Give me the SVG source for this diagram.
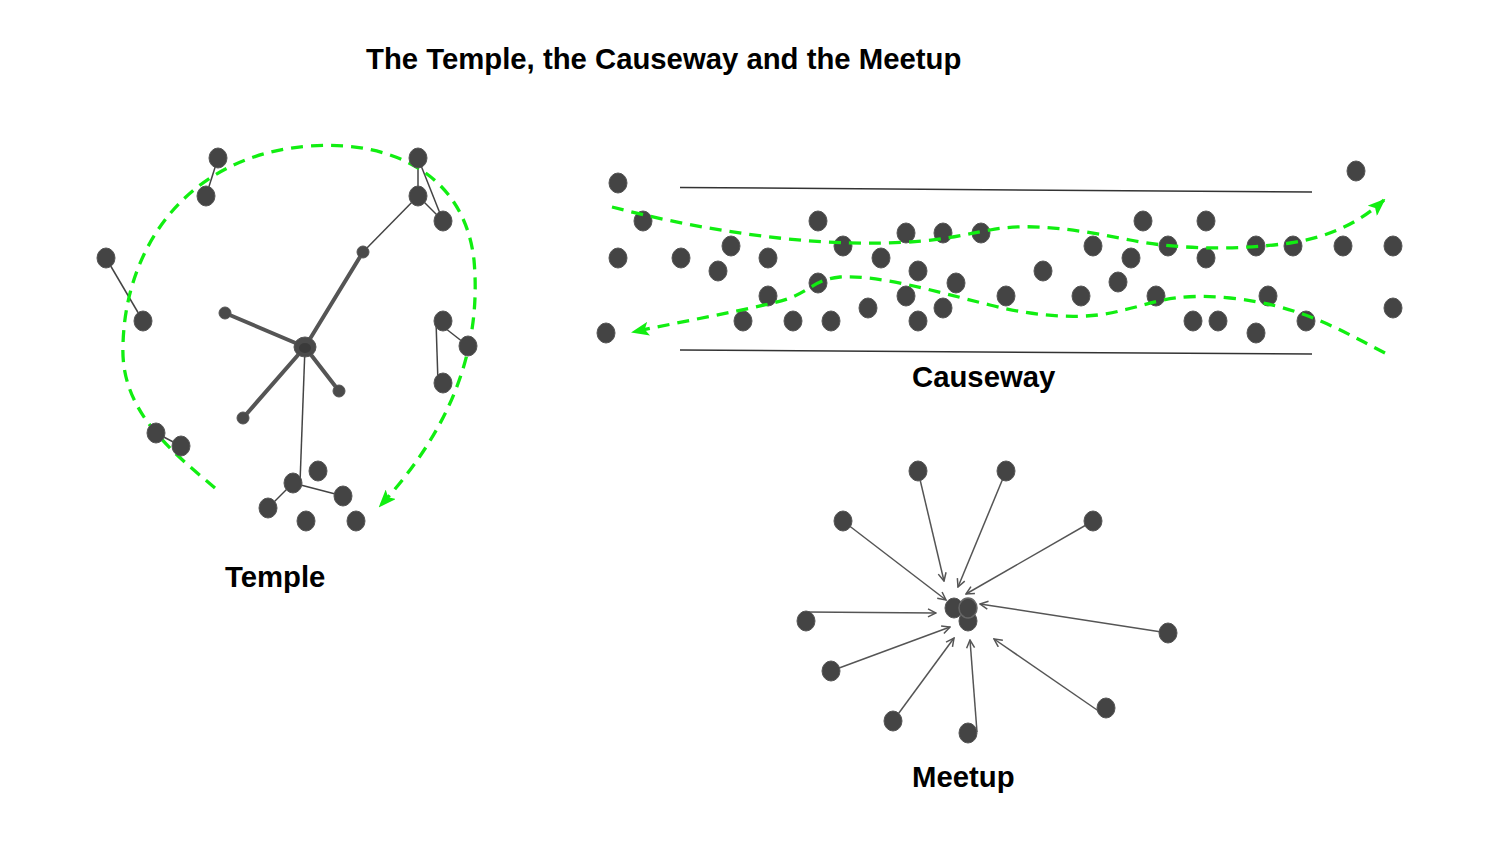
<svg xmlns="http://www.w3.org/2000/svg" width="1500" height="844" viewBox="0 0 1500 844">
<defs>
<style>
.lbl{font-family:"Liberation Sans",Arial,sans-serif;font-weight:bold;font-size:29.3px;fill:#000}
.dot{fill:#444;stroke:#555;stroke-width:1}
.sm{fill:#4a4a4a;stroke:#555;stroke-width:1}
.thin{stroke:#444;stroke-width:1.5;fill:none}
.thick{stroke:#555;stroke-width:4;fill:none;stroke-linecap:round}
.rail{stroke:#333;stroke-width:1.5;fill:none}
.path{stroke:#11ee11;stroke-width:3.3;fill:none;stroke-dasharray:12 8}
.arr{stroke:#555;stroke-width:1.5;fill:none}
</style>
<marker id="ga" viewBox="0 0 18 14" refX="16" refY="7" markerWidth="18" markerHeight="14" markerUnits="userSpaceOnUse" orient="auto">
<path d="M0,0 L18,7 L0,14 L4,7 Z" fill="#11ee11"/>
</marker>
<marker id="va" viewBox="0 0 10 10" refX="9" refY="5" markerWidth="10" markerHeight="10" markerUnits="userSpaceOnUse" orient="auto">
<path d="M1,1 L9,5 L1,9" fill="none" stroke="#555" stroke-width="1.5"/>
</marker>
</defs>
<rect width="1500" height="844" fill="#fff"/>
<text class="lbl" x="366" y="69">The Temple, the Causeway and the Meetup</text>

<!-- Temple -->
<g id="temple-connectors">
<line class="thin" x1="218" y1="158" x2="206" y2="196"/>
<line class="thin" x1="418" y1="158" x2="418" y2="196"/>
<line class="thin" x1="418" y1="158" x2="443" y2="221"/>
<line class="thin" x1="418" y1="196" x2="443" y2="221"/>
<line class="thin" x1="418" y1="196" x2="363" y2="252"/>
<line class="thin" x1="106" y1="258" x2="143" y2="321"/>
<line class="thin" x1="436" y1="321" x2="468" y2="346"/>
<line class="thin" x1="436" y1="321" x2="438" y2="383"/>
<line class="thin" x1="156" y1="433" x2="181" y2="446"/>
<line class="thin" x1="305" y1="347" x2="300" y2="483"/>
<line class="thin" x1="293" y1="483" x2="268" y2="508"/>
<line class="thin" x1="293" y1="483" x2="343" y2="496"/>
<line class="thick" x1="305" y1="347" x2="225" y2="313"/>
<line class="thick" x1="305" y1="347" x2="363" y2="252"/>
<line class="thick" x1="305" y1="347" x2="339" y2="391"/>
<line class="thick" x1="305" y1="347" x2="243" y2="418"/>
<path class="path" marker-end="url(#ga)" d="M215,488 C170,450 120,410 123,345 C125,250 185,155 310,146 C400,140 465,180 474,260 C482,350 450,430 380,506"/>
</g>
<g id="temple-nodes">
<ellipse class="dot" cx="218" cy="158" rx="9" ry="10"/>
<ellipse class="dot" cx="206" cy="196" rx="9" ry="10"/>
<ellipse class="dot" cx="418" cy="158" rx="9" ry="10"/>
<ellipse class="dot" cx="418" cy="196" rx="9" ry="10"/>
<ellipse class="dot" cx="443" cy="221" rx="9" ry="10"/>
<ellipse class="dot" cx="106" cy="258" rx="9" ry="10"/>
<ellipse class="dot" cx="143" cy="321" rx="9" ry="10"/>
<ellipse class="dot" cx="443" cy="321" rx="9" ry="10"/>
<ellipse class="dot" cx="468" cy="346" rx="9" ry="10"/>
<ellipse class="dot" cx="443" cy="383" rx="9" ry="10"/>
<ellipse class="dot" cx="156" cy="433" rx="9" ry="10"/>
<ellipse class="dot" cx="181" cy="446" rx="9" ry="10"/>
<ellipse class="dot" cx="318" cy="471" rx="9" ry="10"/>
<ellipse class="dot" cx="293" cy="483" rx="9" ry="10"/>
<ellipse class="dot" cx="343" cy="496" rx="9" ry="10"/>
<ellipse class="dot" cx="268" cy="508" rx="9" ry="10"/>
<ellipse class="dot" cx="306" cy="521" rx="9" ry="10"/>
<ellipse class="dot" cx="356" cy="521" rx="9" ry="10"/>
<ellipse class="sm" cx="305" cy="347" rx="11" ry="10"/>
<ellipse cx="305" cy="348" rx="6" ry="5" fill="#3a3a3a"/>
<circle class="sm" cx="225" cy="313" r="6"/>
<circle class="sm" cx="363" cy="252" r="6"/>
<circle class="sm" cx="339" cy="391" r="6"/>
<circle class="sm" cx="243" cy="418" r="6"/>
</g>
<text class="lbl" x="225" y="587">Temple</text>

<!-- Causeway -->
<g id="causeway-connectors">
<line class="rail" x1="680" y1="187.5" x2="1312" y2="192"/>
<line class="rail" x1="680" y1="350" x2="1312" y2="354"/>
</g>
<g id="causeway-nodes">
<ellipse class="dot" cx="618" cy="183" rx="9" ry="10"/>
<ellipse class="dot" cx="643" cy="221" rx="9" ry="10"/>
<ellipse class="dot" cx="618" cy="258" rx="9" ry="10"/>
<ellipse class="dot" cx="681" cy="258" rx="9" ry="10"/>
<ellipse class="dot" cx="731" cy="246" rx="9" ry="10"/>
<ellipse class="dot" cx="718" cy="271" rx="9" ry="10"/>
<ellipse class="dot" cx="768" cy="258" rx="9" ry="10"/>
<ellipse class="dot" cx="818" cy="221" rx="9" ry="10"/>
<ellipse class="dot" cx="843" cy="246" rx="9" ry="10"/>
<ellipse class="dot" cx="881" cy="258" rx="9" ry="10"/>
<ellipse class="dot" cx="906" cy="233" rx="9" ry="10"/>
<ellipse class="dot" cx="943" cy="233" rx="9" ry="10"/>
<ellipse class="dot" cx="981" cy="233" rx="9" ry="10"/>
<ellipse class="dot" cx="918" cy="271" rx="9" ry="10"/>
<ellipse class="dot" cx="818" cy="283" rx="9" ry="10"/>
<ellipse class="dot" cx="768" cy="296" rx="9" ry="10"/>
<ellipse class="dot" cx="743" cy="321" rx="9" ry="10"/>
<ellipse class="dot" cx="793" cy="321" rx="9" ry="10"/>
<ellipse class="dot" cx="831" cy="321" rx="9" ry="10"/>
<ellipse class="dot" cx="868" cy="308" rx="9" ry="10"/>
<ellipse class="dot" cx="906" cy="296" rx="9" ry="10"/>
<ellipse class="dot" cx="918" cy="321" rx="9" ry="10"/>
<ellipse class="dot" cx="943" cy="308" rx="9" ry="10"/>
<ellipse class="dot" cx="956" cy="283" rx="9" ry="10"/>
<ellipse class="dot" cx="1006" cy="296" rx="9" ry="10"/>
<ellipse class="dot" cx="606" cy="333" rx="9" ry="10"/>
<ellipse class="dot" cx="1356" cy="171" rx="9" ry="10"/>
<ellipse class="dot" cx="1143" cy="221" rx="9" ry="10"/>
<ellipse class="dot" cx="1206" cy="221" rx="9" ry="10"/>
<ellipse class="dot" cx="1093" cy="246" rx="9" ry="10"/>
<ellipse class="dot" cx="1168" cy="246" rx="9" ry="10"/>
<ellipse class="dot" cx="1256" cy="246" rx="9" ry="10"/>
<ellipse class="dot" cx="1293" cy="246" rx="9" ry="10"/>
<ellipse class="dot" cx="1343" cy="246" rx="9" ry="10"/>
<ellipse class="dot" cx="1393" cy="246" rx="9" ry="10"/>
<ellipse class="dot" cx="1131" cy="258" rx="9" ry="10"/>
<ellipse class="dot" cx="1206" cy="258" rx="9" ry="10"/>
<ellipse class="dot" cx="1043" cy="271" rx="9" ry="10"/>
<ellipse class="dot" cx="1118" cy="282" rx="9" ry="10"/>
<ellipse class="dot" cx="1081" cy="296" rx="9" ry="10"/>
<ellipse class="dot" cx="1156" cy="296" rx="9" ry="10"/>
<ellipse class="dot" cx="1268" cy="296" rx="9" ry="10"/>
<ellipse class="dot" cx="1193" cy="321" rx="9" ry="10"/>
<ellipse class="dot" cx="1218" cy="321" rx="9" ry="10"/>
<ellipse class="dot" cx="1256" cy="333" rx="9" ry="10"/>
<ellipse class="dot" cx="1306" cy="321" rx="9" ry="10"/>
<ellipse class="dot" cx="1393" cy="308" rx="9" ry="10"/>
</g>
<g id="causeway-paths">
<path class="path" marker-end="url(#ga)" d="M612,207 C700,230 800,245 883,243 C940,242 960,235 990,230 C1030,222 1080,230 1130,240 C1180,250 1240,250 1290,243 C1330,237 1360,222 1384,200"/>
<path class="path" marker-end="url(#ga)" d="M1385,353 C1340,330 1300,305 1230,298 C1170,292 1150,305 1123,310 C1090,320 1040,318 990,305 C930,290 880,275 840,277 C810,280 810,295 773,303 C730,313 680,322 633,332"/>
</g>
<text class="lbl" x="912" y="387">Causeway</text>

<!-- Meetup -->
<g id="meetup-connectors">
<line class="arr" marker-end="url(#va)" x1="918" y1="471" x2="944" y2="581"/>
<line class="arr" marker-end="url(#va)" x1="1006" y1="471" x2="958" y2="587"/>
<line class="arr" marker-end="url(#va)" x1="843" y1="521" x2="946" y2="600"/>
<line class="arr" marker-end="url(#va)" x1="1093" y1="521" x2="966" y2="594"/>
<line class="arr" marker-end="url(#va)" x1="806" y1="612" x2="936" y2="613"/>
<line class="arr" marker-end="url(#va)" x1="1168" y1="633" x2="980" y2="604"/>
<line class="arr" marker-end="url(#va)" x1="831" y1="671" x2="950" y2="627"/>
<line class="arr" marker-end="url(#va)" x1="893" y1="721" x2="954" y2="638"/>
<line class="arr" marker-end="url(#va)" x1="977" y1="732" x2="970" y2="640"/>
<line class="arr" marker-end="url(#va)" x1="1100" y1="712" x2="994" y2="639"/>
</g>
<g id="meetup-nodes">
<ellipse class="dot" cx="918" cy="471" rx="9" ry="10"/>
<ellipse class="dot" cx="1006" cy="471" rx="9" ry="10"/>
<ellipse class="dot" cx="843" cy="521" rx="9" ry="10"/>
<ellipse class="dot" cx="1093" cy="521" rx="9" ry="10"/>
<ellipse class="dot" cx="806" cy="621" rx="9" ry="10"/>
<ellipse class="dot" cx="1168" cy="633" rx="9" ry="10"/>
<ellipse class="dot" cx="831" cy="671" rx="9" ry="10"/>
<ellipse class="dot" cx="893" cy="721" rx="9" ry="10"/>
<ellipse class="dot" cx="968" cy="733" rx="9" ry="10"/>
<ellipse class="dot" cx="1106" cy="708" rx="9" ry="10"/>
<ellipse class="dot" cx="954" cy="608" rx="9" ry="10"/>
<ellipse class="dot" cx="968" cy="621" rx="9" ry="10"/>
<ellipse class="dot" cx="968" cy="608" rx="9" ry="10" style="stroke:#666;stroke-width:1.5"/>
</g>
<text class="lbl" x="912" y="787">Meetup</text>
</svg>
